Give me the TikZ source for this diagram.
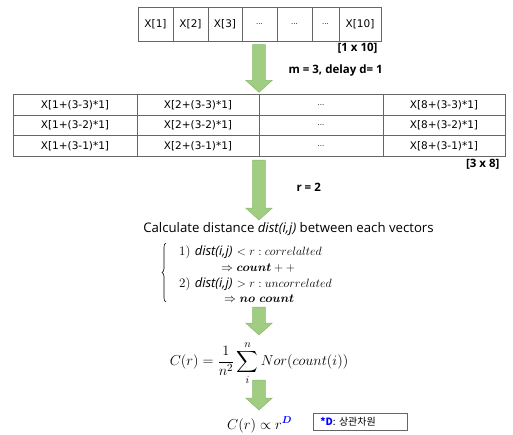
\documentclass[tikz,border=0pt]{standalone}
\usepackage{fontspec}
\usepackage{amsmath, amssymb}
\usepackage{xcolor}
\usetikzlibrary{decorations.pathreplacing}
\setsansfont{DejaVu Sans}
\newfontfamily\labelfont{Open Sans}
\newfontfamily\krfont{Noto Sans CJK KR}

\definecolor{arrowfill}{RGB}{160,205,130}
\definecolor{arrowline}{RGB}{138,184,110}
\newcommand\celldots{{\fontsize{7}{8}\selectfont ...}}

\begin{document}
\begin{tikzpicture}[x=1pt, y=-1pt,
  cell/.style={draw=black!60, line width=0.7pt, inner sep=0pt,
    font=\sffamily\fontsize{10.5}{12}\selectfont},
  boldlabel/.style={font=\labelfont\bfseries\fontsize{11.5}{13}\selectfont},
  mathline/.style={anchor=west, inner sep=0pt, font=\fontsize{13}{15}\selectfont},
  garrow/.style={fill=arrowfill, draw=arrowline, line width=0.5pt}]

  \useasboundingbox (0,0) rectangle (513,434);

  % Input series
  \foreach \xa/\xb/\t [count=\i] in {138/173/X[1], 173/208/X[2], 208/242/X[3],
      242/277/\celldots, 277/312/\celldots, 312/339/\celldots, 339/381/X[10]} {
    \node[cell, minimum width={(\xb-\xa)*1pt}, minimum height=34pt]
      (x\i) at ({(\xa+\xb)/2}, 24) {\t};
  }
  \node[boldlabel, anchor=east] (size1) at (381,48) {[1 x 10]};

  % Embedding matrix
  \foreach \k [count=\r] in {3,2,1} {
    \foreach \xa/\xb/\t [count=\c] in {13/137/{X[1+(3-\k)*1]}, 137/259/{X[2+(3-\k)*1]},
        259/383/\celldots, 383/505/{X[8+(3-\k)*1]}} {
      \node[cell, minimum width={(\xb-\xa)*1pt}, minimum height=20.5pt]
        (m\r\c) at ({(\xa+\xb)/2}, {84.5+20.5*\r}) {\t};
    }
  }
  \node[boldlabel, anchor=east] (size2) at (503,164) {[3 x 8]};

  % Arrows
  \foreach \ya/\yb in {44.7/92.3, 160/220, 307/335, 380/410} {
    \filldraw[garrow] (252.7,\ya) -- (265.3,\ya) -- (265.3,\yb-12)
      -- (272.3,\yb-12) -- (259,\yb) -- (245.7,\yb-12) -- (252.7,\yb-12) -- cycle;
  }
  \node[boldlabel, anchor=west] (param1) at (285,71) {m = 3, delay d= 1};
  \node[boldlabel, anchor=west] (param2) at (293,187) {r = 2};

  % Distance test
  \node[font=\labelfont\fontsize{13.2}{15}\selectfont] (calc) at (288.5,229)
    {Calculate distance \textit{dist(i,j)} between each vectors};
  \draw[decorate, decoration={brace, amplitude=4pt}, line width=0.6pt] (166,302) -- (166,243);
  \node[mathline] (case1) at (179,252)
    {1) {\labelfont\itshape dist(i,j)} $< r : correlalted$};
  \node[mathline] (count1) at (221,268) {$\Rightarrow \boldsymbol{count} + +$};
  \node[mathline] (case2) at (179,284)
    {2) {\labelfont\itshape dist(i,j)} $> r : uncorrelated$};
  \node[mathline] (count2) at (224,299) {$\Rightarrow \boldsymbol{no\ count}$};

  % Correlation sum
  \node[inner sep=0pt, font=\fontsize{15}{18}\selectfont] (corr) at (259,363)
    {$\displaystyle C(r) = \frac{1}{n^2}\sum_{i}^{n} Nor(count(i))$};
  \node[font=\fontsize{14}{16}\selectfont, anchor=base] (dim) at (259.7,429)
    {$C(r) \propto r^{\textcolor{blue}{\boldsymbol{D}}}$};
  \node[draw=black!60, line width=0.7pt, anchor=north west, text width=80pt,
    inner xsep=7pt, inner ysep=0pt, minimum height=17pt,
    font=\krfont\fontsize{10}{12}\selectfont] (note) at (313,413)
    {\textcolor{blue}{\bfseries *D}: 상관차원};
\end{tikzpicture}
\end{document}
